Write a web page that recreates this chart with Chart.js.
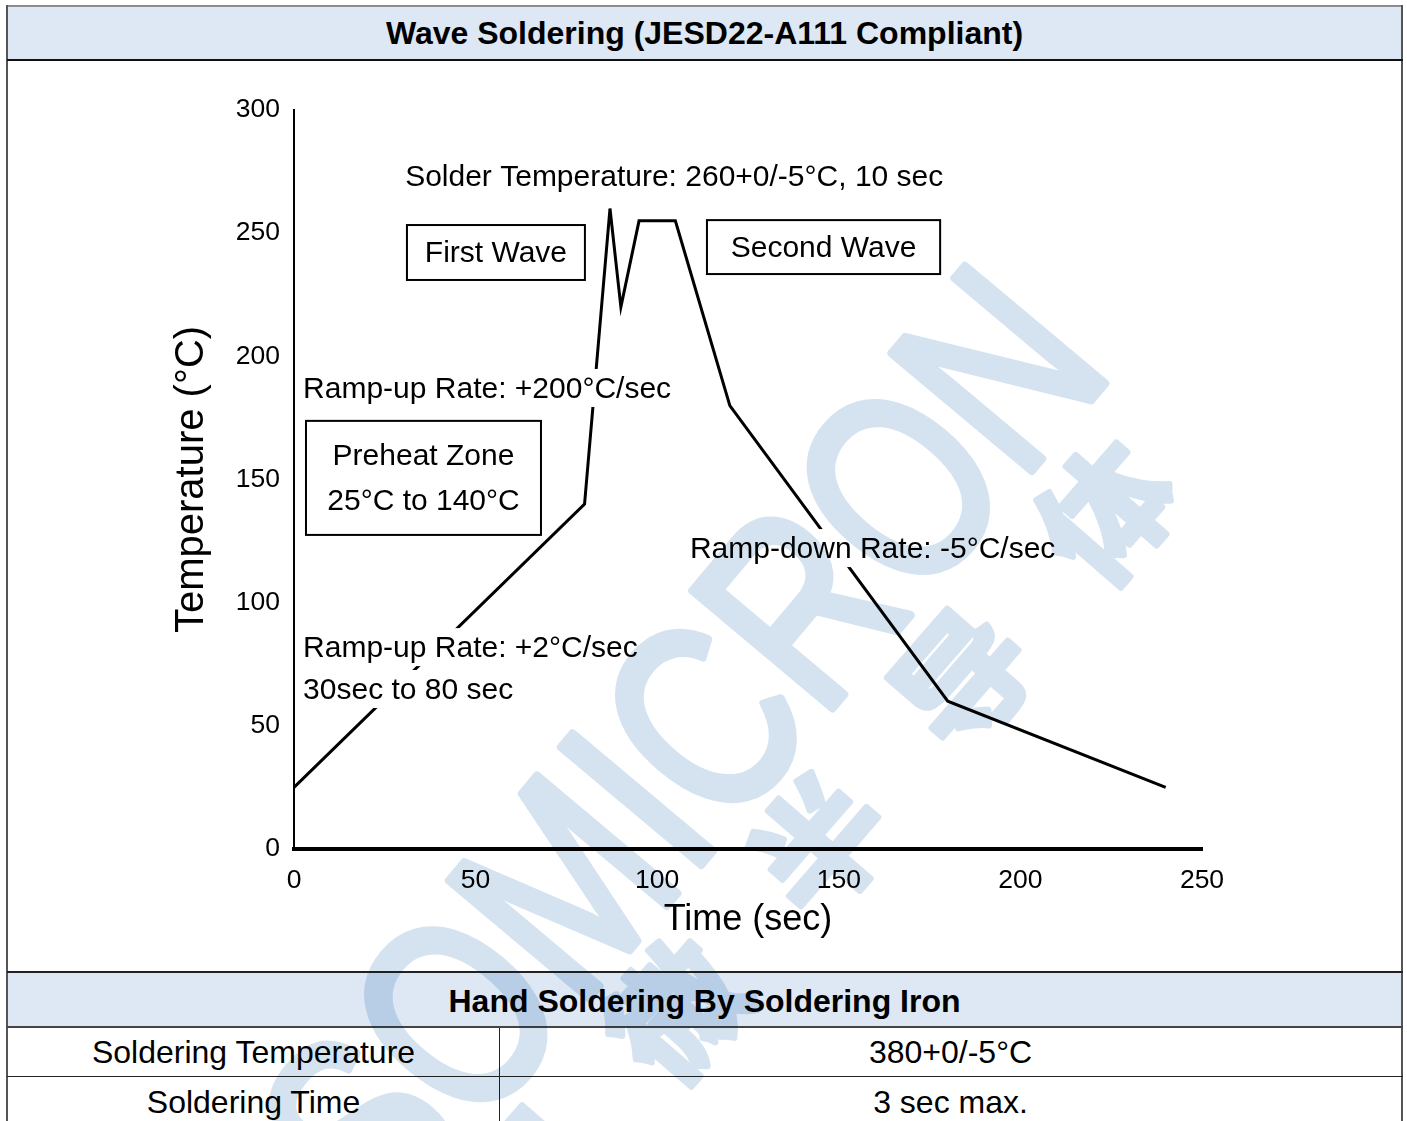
<!DOCTYPE html>
<html>
<head>
<meta charset="utf-8">
<title>Wave Soldering profile</title>
<script src="https://cdn.jsdelivr.net/npm/chart.js@4.4.1/dist/chart.umd.min.js"></script>
<style>
  html, body { margin:0; padding:0; background:#fff; }
  body { width:1407px; height:1121px; position:relative; overflow:hidden; font-family:"Liberation Sans", Arial, sans-serif; color:#000; }
  .band { position:absolute; left:8px; width:1393px; background:#dde8f4; text-align:center; font-weight:bold; font-size:32px; }
  .cell { position:absolute; text-align:center; font-size:32px; }
  .ln { position:absolute; }
  #chart { position:absolute; left:0; top:0; }
  #wm { position:absolute; left:0; top:0; mix-blend-mode:multiply; pointer-events:none; }
</style>
</head>
<body>
<div class="band" style="top:7px;height:52px;line-height:52px">Wave Soldering (JESD22-A111 Compliant)</div>
<div class="band" style="top:973px;height:53px;line-height:56px">Hand Soldering By Soldering Iron</div>
<div class="cell" style="left:8px;width:491px;top:1028px;line-height:48px">Soldering Temperature</div>
<div class="cell" style="left:500px;width:901px;top:1028px;line-height:48px">380+0/-5°C</div>
<div class="cell" style="left:8px;width:491px;top:1077px;line-height:50px">Soldering Time</div>
<div class="cell" style="left:500px;width:901px;top:1077px;line-height:50px">3 sec max.</div>

<div class="ln" style="left:7px;top:5px;width:1396px;height:2px;background:#8c8c8c"></div>
<div class="ln" style="left:6px;top:5px;width:2px;height:1116px;background:#555"></div>
<div class="ln" style="left:1401px;top:5px;width:2px;height:1116px;background:#555"></div>
<div class="ln" style="left:7px;top:59px;width:1396px;height:2px;background:#111"></div>
<div class="ln" style="left:7px;top:971px;width:1396px;height:2px;background:#222"></div>
<div class="ln" style="left:7px;top:1026px;width:1396px;height:2px;background:#444"></div>
<div class="ln" style="left:7px;top:1076px;width:1396px;height:1px;background:#222"></div>
<div class="ln" style="left:499px;top:1028px;width:1px;height:93px;background:#222"></div>

<canvas id="chart" width="1407" height="1121"></canvas>
<canvas id="wm" width="1407" height="1121"></canvas>

<script>
// profile points
const timeSec = [0, 80, 87, 90, 95, 105, 120, 180, 240];
const tempC   = [25, 140, 260, 220, 255, 255, 180, 60, 25];
const xTicks  = [0, 50, 100, 150, 200, 250];
const yTicks  = [0, 50, 100, 150, 200, 250, 300];

const xTitle = 'Time (sec)';
const yTitle = 'Temperature (°C)';
const noteSolder   = 'Solder Temperature: 260+0/-5°C, 10 sec';
const noteFirst    = 'First Wave';
const noteSecond   = 'Second Wave';
const noteRampFast = 'Ramp-up Rate: +200°C/sec';
const notePreheat  = ['Preheat Zone', '25°C to 140°C'];
const noteRampSlow = ['Ramp-up Rate: +2°C/sec', '30sec to 80 sec'];
const noteRampDown = 'Ramp-down Rate: -5°C/sec';

const FONT = '"Liberation Sans", Arial, sans-serif';
Chart.defaults.font.family = FONT;
Chart.defaults.color = '#000';

// labels and boxes drawn on top of the curve, placed in axis units
const notes = {
  id: 'notes',
  afterDatasetsDraw(chart) {
    const { ctx, scales: { x, y } } = chart;
    const X = v => x.getPixelForValue(v), Y = v => y.getPixelForValue(v);
    ctx.save();
    ctx.font = '30px ' + FONT;
    ctx.textBaseline = 'alphabetic';
    ctx.lineWidth = 2;
    ctx.strokeStyle = '#000';

    function text(t, vx, vy, patch) {
      const px = X(vx), py = Y(vy);
      if (patch) {
        // the original text boxes are white-filled and hide the curve
        ctx.fillStyle = '#fff';
        ctx.fillRect(px - 3, py - 29, ctx.measureText(t).width + 6, 38);
      }
      ctx.fillStyle = '#000';
      ctx.textAlign = 'left';
      ctx.fillText(t, px, py);
    }
    function box(lines, x0, x1, y0, y1, bases) {
      const l = X(x0), r = X(x1), t = Y(y0), b = Y(y1);
      ctx.fillStyle = '#fff';
      ctx.fillRect(l, t, r - l, b - t);
      ctx.strokeRect(l, t, r - l, b - t);
      ctx.fillStyle = '#000';
      ctx.textAlign = 'center';
      lines.forEach((s, i) => ctx.fillText(s, (l + r) / 2, Y(bases[i])));
    }

    text(noteSolder, 30.6, 269.2, false);
    box([noteFirst], 31.1, 80.1, 253.3, 231.0, [238.3]);
    box([noteSecond], 113.7, 177.9, 255.3, 233.4, [240.3]);
    text(noteRampFast, 2.5, 183.1, true);
    box(notePreheat, 3.3, 68.0, 173.8, 127.5, [155.9, 137.6]);
    text(noteRampSlow[0], 2.5, 77.9, true);
    text(noteRampSlow[1], 2.5, 60.9, true);
    text(noteRampDown, 109.0, 118.1, true);
    ctx.restore();
  }
};

new Chart(document.getElementById('chart'), {
  type: 'line',
  data: {
    datasets: [{
      data: timeSec.map((t, i) => ({ x: t, y: tempC[i] })),
      borderColor: '#000',
      borderWidth: 3,
      pointRadius: 0,
      tension: 0,
      fill: false
    }]
  },
  options: {
    responsive: false,
    animation: false,
    layout: { padding: { left: 0, right: 205, top: 110, bottom: 0 } },
    plugins: { legend: { display: false }, tooltip: { enabled: false } },
    scales: {
      x: {
        type: 'linear', min: 0, max: 250,
        afterBuildTicks: s => { s.ticks = xTicks.map(v => ({ value: v })); },
        afterFit: s => { s.height = 272; },
        grid: { display: false, drawTicks: false },
        border: { color: '#000', width: 4 },
        ticks: { color: '#000', padding: 16, font: { size: 26.5 }, maxRotation: 0 },
        title: { display: true, text: xTitle, color: '#000', font: { size: 36 }, padding: { top: 0, bottom: 179 } }
      },
      y: {
        type: 'linear', min: 0, max: 300,
        afterBuildTicks: s => { s.ticks = yTicks.map(v => ({ value: v })); },
        afterFit: s => { s.width = 294; },
        grid: { display: false, drawTicks: false },
        border: { color: '#000', width: 2 },
        ticks: { color: '#000', padding: 14, font: { size: 26.5 } },
        title: { display: true, text: yTitle, color: '#000', font: { size: 40 }, padding: { top: 168, bottom: 0 } }
      }
    }
  },
  plugins: [notes]
});

// faint company watermark laid over the whole sheet
const wm = document.getElementById('wm').getContext('2d');
wm.fillStyle = wm.strokeStyle = 'rgb(213,227,241)';
wm.lineJoin = 'round';
wm.save();
wm.translate(695, 758);
wm.rotate(-50 * Math.PI / 180);
wm.font = '265px ' + FONT;
const ww = wm.measureText('SOMICRON').width;
wm.scale(1136 / ww, 1);
wm.textAlign = 'center';
wm.textBaseline = 'middle';
wm.lineWidth = 9;
wm.fillText('SOMICRON', 0, 0);
wm.strokeText('SOMICRON', 0, 0);
wm.restore();
wm.font = 'bold 130px "Noto Sans CJK SC", sans-serif';
wm.lineWidth = 6;
['思', '微', '半', '导', '体'].forEach((c, i) => {
  wm.save();
  wm.translate(812 + (i - 2) * 143, 838 - (i - 2) * 166);
  wm.rotate(-49 * Math.PI / 180);
  wm.textAlign = 'center';
  wm.textBaseline = 'middle';
  wm.fillText(c, 0, 10);
  wm.strokeText(c, 0, 10);
  wm.restore();
});
</script>
</body>
</html>
